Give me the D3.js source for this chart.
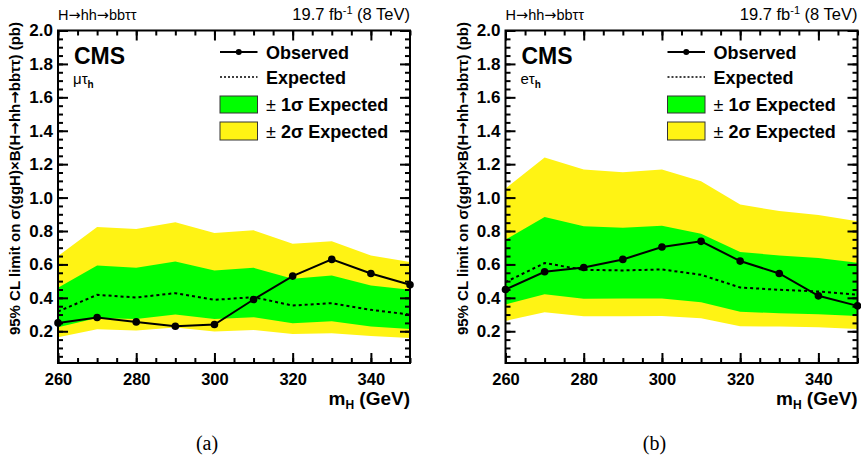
<!DOCTYPE html>
<html>
<head>
<meta charset="utf-8">
<script src="https://cdn.jsdelivr.net/npm/d3@7"></script>
<style>
  body { margin: 0; background: #fff; }
  svg { display: block; font-family: "Liberation Sans", Arial, sans-serif; }
</style>
</head>
<body>
<svg id="chart" width="861" height="461"></svg>
<script>
// mass points (GeV)
var massPoints = [260, 270, 280, 290, 300, 310, 320, 330, 340, 350];

// (a) mu-tau_h channel
var muObserved  = [0.250, 0.282, 0.256, 0.230, 0.240, 0.390, 0.530, 0.630, 0.546, 0.478];
var muExpected  = [0.318, 0.418, 0.402, 0.428, 0.388, 0.404, 0.354, 0.368, 0.328, 0.300];
var muOneSigLo  = [0.224, 0.280, 0.274, 0.300, 0.274, 0.284, 0.248, 0.260, 0.228, 0.214];
var muOneSigHi  = [0.460, 0.594, 0.580, 0.618, 0.564, 0.580, 0.514, 0.534, 0.474, 0.448];
var muTwoSigLo  = [0.164, 0.212, 0.204, 0.222, 0.198, 0.208, 0.184, 0.188, 0.172, 0.160];
var muTwoSigHi  = [0.650, 0.824, 0.812, 0.852, 0.788, 0.804, 0.724, 0.738, 0.654, 0.614];

// (b) e-tau_h channel
var eObserved   = [0.450, 0.556, 0.582, 0.630, 0.704, 0.738, 0.620, 0.546, 0.412, 0.352];
var eExpected   = [0.494, 0.608, 0.568, 0.564, 0.570, 0.538, 0.462, 0.448, 0.438, 0.418];
var eOneSigLo   = [0.360, 0.422, 0.394, 0.396, 0.396, 0.374, 0.316, 0.308, 0.302, 0.292];
var eOneSigHi   = [0.748, 0.884, 0.828, 0.820, 0.832, 0.784, 0.674, 0.654, 0.638, 0.610];
var eTwoSigLo   = [0.262, 0.314, 0.290, 0.290, 0.292, 0.278, 0.230, 0.228, 0.224, 0.214];
var eTwoSigHi   = [1.054, 1.240, 1.168, 1.152, 1.168, 1.098, 0.958, 0.920, 0.896, 0.858];

// axis ticks
var xMajorTicks = [260, 280, 300, 320, 340];
var xMinorTicks = d3.range(260, 351, 5);
var yMajorTicks = [0.2, 0.4, 0.6, 0.8, 1.0, 1.2, 1.4, 1.6, 1.8, 2.0];
var yMinorTicks = d3.range(1, 41).map(function(i){ return i * 0.05; });

var legendLabels = ["Observed", "Expected", "1\u03c3 Expected", "2\u03c3 Expected"];

var YELLOW = "#fff314", GREEN = "#00ff00";

var svg = d3.select("#chart");

var panels = [
  { left: 58,    obs: muObserved, exp: muExpected, s1lo: muOneSigLo, s1hi: muOneSigHi,
    s2lo: muTwoSigLo, s2hi: muTwoSigHi, chan: "\u03bc\u03c4", tag: "(a)" },
  { left: 505.5, obs: eObserved,  exp: eExpected,  s1lo: eOneSigLo,  s1hi: eOneSigHi,
    s2lo: eTwoSigLo,  s2hi: eTwoSigHi,  chan: "e\u03c4",      tag: "(b)" }
];

panels.forEach(drawPanel);

// arrows look too small in Liberation Sans, borrow them from DejaVu
function richText(sel, str){
  str.split("\u2192").forEach(function(part, i){
    if (i > 0) sel.append("tspan").attr("font-family", "DejaVu Sans").text("\u2192");
    if (part) sel.append("tspan").text(part);
  });
}

function drawPanel(p){
  var W = 352, top = 30.5, bottom = 363;
  var x = d3.scaleLinear().domain([260, 350]).range([p.left, p.left + W]);
  var y = d3.scaleLinear().domain([0.01, 2.0]).range([bottom, top]);
  var idx = d3.range(massPoints.length);

  var g = svg.append("g");

  // bands
  g.append("path").datum(idx)
    .attr("fill", YELLOW)
    .attr("d", d3.area()
      .x(function(i){ return x(massPoints[i]); })
      .y0(function(i){ return y(p.s2lo[i]); })
      .y1(function(i){ return y(p.s2hi[i]); }));

  g.append("path").datum(idx)
    .attr("fill", GREEN)
    .attr("d", d3.area()
      .x(function(i){ return x(massPoints[i]); })
      .y0(function(i){ return y(p.s1lo[i]); })
      .y1(function(i){ return y(p.s1hi[i]); }));

  // expected
  g.append("path").datum(idx)
    .attr("fill", "none").attr("stroke", "#000")
    .attr("stroke-width", 2).attr("stroke-dasharray", "3,3")
    .attr("d", d3.line()
      .x(function(i){ return x(massPoints[i]); })
      .y(function(i){ return y(p.exp[i]); }));

  // observed
  g.append("path").datum(idx)
    .attr("fill", "none").attr("stroke", "#000").attr("stroke-width", 2)
    .attr("d", d3.line()
      .x(function(i){ return x(massPoints[i]); })
      .y(function(i){ return y(p.obs[i]); }));

  g.selectAll(".pt").data(idx).enter().append("circle")
    .attr("class", "pt")
    .attr("cx", function(i){ return x(massPoints[i]); })
    .attr("cy", function(i){ return y(p.obs[i]); })
    .attr("r", 3.8).attr("fill", "#000");

  // axes (ticks point inward)
  function axisGroup(axis, tx, ty){
    var a = g.append("g").attr("transform", "translate(" + tx + "," + ty + ")").call(axis);
    a.select(".domain").remove();
    a.selectAll("line").attr("stroke-width", 2);
    return a;
  }

  var xb = axisGroup(d3.axisBottom(x).tickValues(xMajorTicks).tickSize(-10).tickPadding(10)
    .tickFormat(d3.format("d")), 0, bottom);
  xb.selectAll("text").attr("font-size", 16.5).attr("font-weight", "bold").attr("fill", "#000");
  axisGroup(d3.axisBottom(x).tickValues(xMinorTicks).tickSize(-5).tickFormat(""), 0, bottom);
  axisGroup(d3.axisTop(x).tickValues(xMajorTicks).tickSize(-10).tickFormat(""), 0, top);
  axisGroup(d3.axisTop(x).tickValues(xMinorTicks).tickSize(-5).tickFormat(""), 0, top);

  var yl = axisGroup(d3.axisLeft(y).tickValues(yMajorTicks).tickSize(-10).tickPadding(5)
    .tickFormat(d3.format(".1f")), p.left, 0);
  yl.selectAll("text").attr("font-size", 17).attr("font-weight", "bold").attr("fill", "#000");
  axisGroup(d3.axisLeft(y).tickValues(yMinorTicks).tickSize(-5).tickFormat(""), p.left, 0);
  axisGroup(d3.axisRight(y).tickValues(yMajorTicks).tickSize(-10).tickFormat(""), p.left + W, 0);
  axisGroup(d3.axisRight(y).tickValues(yMinorTicks).tickSize(-5).tickFormat(""), p.left + W, 0);

  // frame
  g.append("rect")
    .attr("x", p.left).attr("y", top).attr("width", W).attr("height", bottom - top)
    .attr("fill", "none").attr("stroke", "#000").attr("stroke-width", 2);

  // top texts
  var proc = g.append("text").attr("x", p.left).attr("y", 20).attr("font-size", 14.5);
  richText(proc, "H\u2192hh\u2192bb\u03c4\u03c4");
  var lumi = g.append("text").attr("x", p.left + W).attr("y", 20)
    .attr("font-size", 16.5).attr("text-anchor", "end");
  lumi.append("tspan").text("19.7 fb");
  lumi.append("tspan").attr("dy", -6).attr("font-size", 11).text("-1");
  lumi.append("tspan").attr("dy", 6).text(" (8 TeV)");

  // CMS + channel
  g.append("text").attr("x", p.left + 16).attr("y", 64)
    .attr("font-size", 23).attr("font-weight", "bold").text("CMS");
  var ch = g.append("text").attr("x", p.left + 15).attr("y", 84).attr("font-size", 15);
  ch.append("tspan").text(p.chan);
  ch.append("tspan").attr("dy", 4).attr("font-size", 10).attr("font-weight", "bold").text("h");

  // legend
  var lx = p.left + 162, lw = 37.5, tx = p.left + 208;
  var rows = [52, 77, 104.5, 131];
  g.append("line").attr("x1", lx).attr("x2", lx + lw).attr("y1", rows[0]).attr("y2", rows[0])
    .attr("stroke", "#000").attr("stroke-width", 2);
  g.append("circle").attr("cx", lx + lw / 2).attr("cy", rows[0]).attr("r", 3);
  g.append("line").attr("x1", lx).attr("x2", lx + lw).attr("y1", rows[1]).attr("y2", rows[1])
    .attr("stroke", "#000").attr("stroke-width", 1.5).attr("stroke-dasharray", "2,2");
  g.append("rect").attr("x", lx).attr("y", rows[2] - 8.5).attr("width", lw).attr("height", 17)
    .attr("fill", GREEN).attr("stroke", "#333").attr("stroke-width", 1);
  g.append("rect").attr("x", lx).attr("y", rows[3] - 9).attr("width", lw).attr("height", 18)
    .attr("fill", YELLOW).attr("stroke", "#333").attr("stroke-width", 1);

  legendLabels.forEach(function(lab, i){
    var t = g.append("text").attr("x", tx).attr("y", rows[i] + 6.5)
      .attr("font-size", 18).attr("font-weight", "bold");
    if (i >= 2) {
      t.append("tspan").attr("font-weight", "normal").text("\u00b1 ");
    }
    t.append("tspan").text(lab);
  });

  // axis titles
  var xt = g.append("text").attr("x", p.left + W).attr("y", 405)
    .attr("text-anchor", "end").attr("font-size", 19).attr("font-weight", "bold");
  xt.append("tspan").text("m");
  xt.append("tspan").attr("dy", 4).attr("font-size", 12).text("H");
  xt.append("tspan").attr("dy", -4).text(" (GeV)");

  var yt = g.append("text")
    .attr("transform", "translate(" + (p.left - 38) + "," + 22 + ") rotate(-90)")
    .attr("text-anchor", "end").attr("font-size", 15).attr("font-weight", "bold");
  richText(yt, "95% CL limit on \u03c3(ggH)\u00d7B(H\u2192hh\u2192bb\u03c4\u03c4) (pb)");

  // panel tag
  g.append("text").attr("x", p.left + 149).attr("y", 450)
    .attr("text-anchor", "middle").attr("font-size", 20)
    .attr("font-family", "'Liberation Serif', 'Times New Roman', serif")
    .text(p.tag);
}
</script>
</body>
</html>
